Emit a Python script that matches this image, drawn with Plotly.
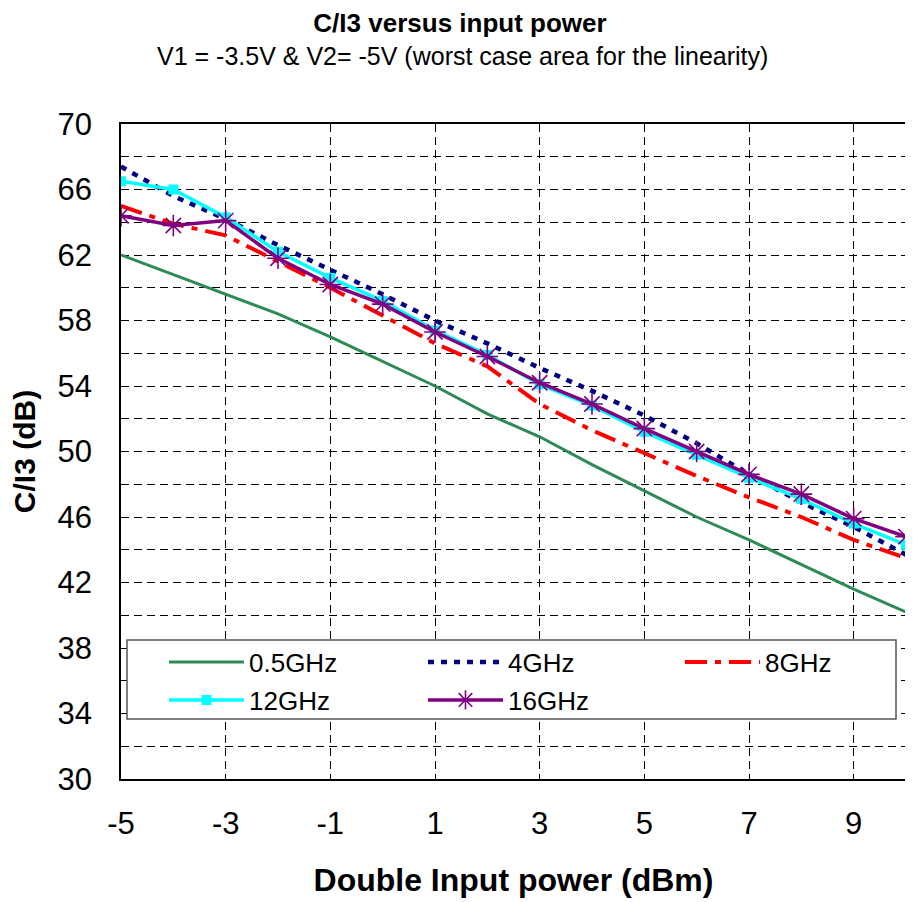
import plotly.graph_objects as go

x_dbm = [-5, -4, -3, -2, -1, 0, 1, 2, 3, 4, 5, 6, 7, 8, 9, 10]

ghz_05 = [62.0, 60.8, 59.6, 58.4, 57.0, 55.5, 54.0, 52.3, 50.9, 49.2, 47.6, 46.0, 44.6, 43.1, 41.6, 40.2]
ghz_4 = [67.4, 65.6, 64.2, 62.6, 61.1, 59.6, 58.0, 56.6, 55.1, 53.7, 52.2, 50.5, 48.6, 46.9, 45.4, 43.7]
ghz_8 = [65.0, 63.9, 63.2, 61.6, 60.0, 58.3, 56.6, 55.2, 52.9, 51.3, 49.9, 48.5, 47.2, 46.0, 44.6, 43.5]
ghz_12 = [66.5, 66.0, 64.3, 62.2, 60.6, 59.2, 57.4, 55.9, 54.1, 52.8, 51.2, 49.8, 48.4, 47.1, 45.6, 44.3]
ghz_16 = [64.4, 63.8, 64.1, 61.8, 60.2, 59.0, 57.3, 55.8, 54.2, 52.9, 51.4, 50.0, 48.6, 47.4, 45.9, 44.8]

series_names = ["0.5GHz", "4GHz", "8GHz", "12GHz", "16GHz"]

x_tick_vals = [-5, -3, -1, 1, 3, 5, 7, 9]
x_tick_text = ["-5", "-3", "-1", "1", "3", "5", "7", "9"]
y_tick_vals = [30, 34, 38, 42, 46, 50, 54, 58, 62, 66, 70]
y_tick_text = ["30", "34", "38", "42", "46", "50", "54", "58", "62", "66", "70"]

FONT = "Arial, Liberation Sans, sans-serif"

# The page body adds an 8px margin; the figure is sized so it fills the window.
OFF = 8
W, H = 913 - OFF, 902 - OFF
L, R, T, B = 121 - OFF, 7, 124 - OFF, 123
PW, PH = W - L - R, H - T - B


def px_x(px):
    """page pixel x -> paper x"""
    return (px - OFF - L) / PW


def px_y(py):
    """page pixel y -> paper y"""
    return (H - B - (py - OFF)) / PH


fig = go.Figure()
fig.add_trace(go.Scatter(x=x_dbm, y=ghz_05, name=series_names[0], mode="lines",
                         legend="legend",
                         line=dict(color="#2E8B57", width=3)))
fig.add_trace(go.Scatter(x=x_dbm, y=ghz_4, name=series_names[1], mode="lines",
                         legend="legend2",
                         line=dict(color="#000080", width=4.5, dash="6px,7px")))
fig.add_trace(go.Scatter(x=x_dbm, y=ghz_8, name=series_names[2], mode="lines",
                         legend="legend3",
                         line=dict(color="#FF0000", width=4, dash="22px,8px,6px,8px")))
fig.add_trace(go.Scatter(x=x_dbm, y=ghz_12, name=series_names[3], mode="lines+markers",
                         legend="legend4",
                         line=dict(color="#00FFFF", width=3.5),
                         marker=dict(symbol="square", size=10, color="#00FFFF")))
fig.add_trace(go.Scatter(x=x_dbm, y=ghz_16, name=series_names[4], mode="lines+markers",
                         legend="legend5",
                         line=dict(color="#800080", width=3.5),
                         marker=dict(symbol="asterisk-open", size=18,
                                     line=dict(color="#800080", width=1.6))))

legend_common = dict(orientation="v", xanchor="left", yanchor="middle",
                     bgcolor="rgba(0,0,0,0)", borderwidth=0,
                     font=dict(size=26, family=FONT, color="black"),
                     itemwidth=75, tracegroupgap=0)

# legend entry anchor positions (page pixels): three columns, two rows
col_px = [164, 423, 680]
row_px = [662, 700]

fig.update_layout(
    width=W, height=H,
    margin=dict(l=L, r=R, t=T, b=B),
    paper_bgcolor="white", plot_bgcolor="white",
    font=dict(family=FONT, color="black"),
    title=dict(text="<b>C/I3 versus input power</b>", x=(460 - OFF) / W, xref="container",
               xanchor="center", y=1 - 15 / H, yref="container", yanchor="middle",
               font=dict(size=26, family=FONT, color="black")),
    annotations=[dict(text="V1 = -3.5V & V2= -5V (worst case area for the linearity)",
                      xref="paper", yref="paper", x=px_x(462), y=px_y(56),
                      xanchor="center", yanchor="middle", showarrow=False,
                      font=dict(size=25, family=FONT, color="black"))],
    shapes=[dict(type="rect", xref="paper", yref="paper", layer="above",
                 x0=px_x(127), x1=px_x(896), y0=px_y(719), y1=px_y(640),
                 fillcolor="white", line=dict(color="#555555", width=1.5))],
    showlegend=True,
    legend=dict(x=px_x(col_px[0]), y=px_y(row_px[0]), **legend_common),
    legend2=dict(x=px_x(col_px[1]), y=px_y(row_px[0]), **legend_common),
    legend3=dict(x=px_x(col_px[2]), y=px_y(row_px[0]), **legend_common),
    legend4=dict(x=px_x(col_px[0]), y=px_y(row_px[1]), **legend_common),
    legend5=dict(x=px_x(col_px[1]), y=px_y(row_px[1]), **legend_common),
)

fig.update_xaxes(range=[-5, 10], tickmode="array", tickvals=x_tick_vals, ticktext=x_tick_text,
                 showline=True, linecolor="black", linewidth=1.5, mirror=True,
                 ticks="", ticklabelstandoff=16, automargin=False,
                 tickfont=dict(size=31, family=FONT, color="black"),
                 showgrid=True, gridcolor="black", gridwidth=1, griddash="8px,5px",
                 zeroline=False,
                 title=dict(text="<b>Double Input power (dBm)</b>", standoff=29,
                            font=dict(size=32, family=FONT, color="black")))

fig.update_yaxes(range=[30, 70], tickmode="array", tickvals=y_tick_vals, ticktext=y_tick_text,
                 showline=True, linecolor="black", linewidth=1.5, mirror=True,
                 ticks="", ticklabelstandoff=21, automargin=False,
                 tickfont=dict(size=31, family=FONT, color="black"),
                 showgrid=True, gridcolor="black", gridwidth=1, griddash="8px,5px",
                 minor=dict(dtick=2, tick0=30, showgrid=True, gridcolor="black", gridwidth=1,
                            griddash="8px,5px"),
                 zeroline=False,
                 title=dict(text="<b>C/I3 (dB)</b>", standoff=15,
                            font=dict(size=30, family=FONT, color="black")))

fig.write_html("out.html")
